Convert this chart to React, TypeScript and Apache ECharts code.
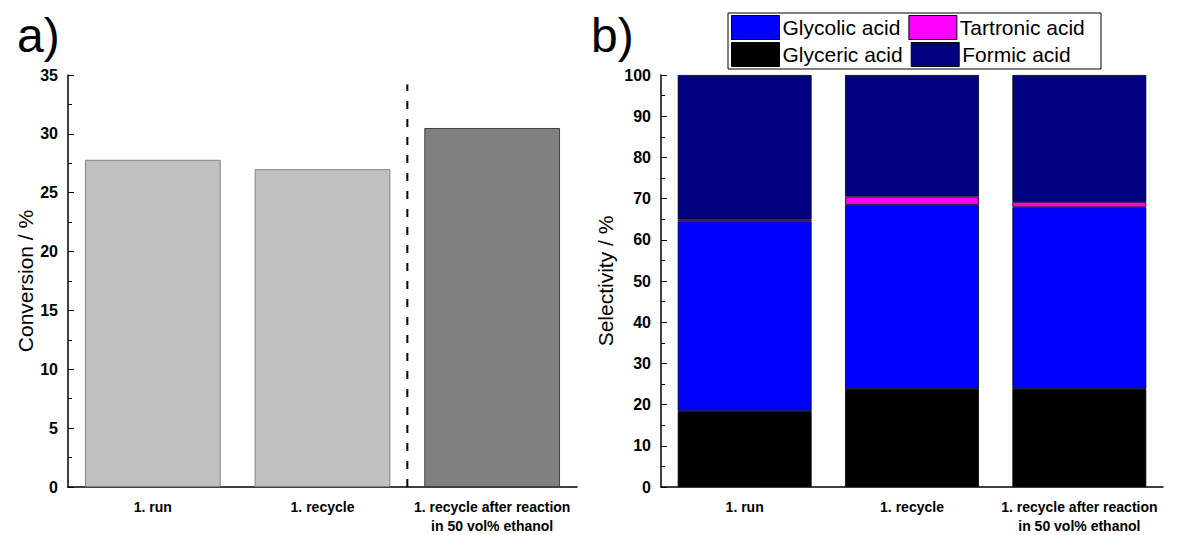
import React, { useEffect, useRef } from "react";
import * as echarts from "echarts";

const categories = ["1. run", "1. recycle", "1. recycle after reaction\nin 50 vol% ethanol"];
const conversion = [27.8, 27.0, 30.5];
const conversionColors = ["#c0c0c0", "#c0c0c0", "#808080"];
const conversionBorders = ["#808080", "#808080", "#404040"];
const dividerLine = [[2, 0], [2, 34.2]];

const glyceric = [18.4, 23.8, 23.8];
const glycolic = [46.1, 44.7, 44.1];
const tartronic = [0.4, 2.0, 1.3];
const formic = [35.1, 29.5, 30.8];

const FONT = "'Liberation Sans', Arial, sans-serif";

export default function App() {
  const ref = useRef<HTMLDivElement>(null);
  useEffect(() => {
    const chart = echarts.init(ref.current!, null, { renderer: "svg" });
    const axisLabel = { color: "#000", fontFamily: FONT, fontWeight: "bold", fontSize: 16, margin: 10 };
    const xLabel = { color: "#000", fontFamily: FONT, fontWeight: "bold", fontSize: 14, margin: 10, lineHeight: 19, interval: 0 };
    const axisLine = { show: true, lineStyle: { color: "#000", width: 1.5 } };
    const legendCommon = {
      left: 731,
      itemWidth: 48,
      itemHeight: 24,
      itemGap: 8,
      icon: "rect",
      padding: 0,
      selectedMode: false,
      textStyle: { fontFamily: FONT, fontSize: 21, color: "#000", padding: [0, 0, 0, -2] },
      itemStyle: { borderColor: "#000", borderWidth: 1 },
    };
    chart.setOption({
      animation: false,
      title: [
        { text: "a)", left: 12, top: 6, textStyle: { fontFamily: FONT, fontSize: 48, fontWeight: "normal", color: "#000" } },
        { text: "b)", left: 586, top: 6, textStyle: { fontFamily: FONT, fontSize: 48, fontWeight: "normal", color: "#000" } },
      ],
      legend: [
        { ...legendCommon, top: 15, data: ["Glycolic acid", "Tartronic acid"] },
        { ...legendCommon, top: 42, data: ["Glyceric acid", "Formic acid"] },
      ],
      graphic: [
        { type: "rect", shape: { x: 728, y: 13, width: 373, height: 56 }, style: { fill: "none", stroke: "#000", lineWidth: 1 } },
      ],
      grid: [
        { left: 68, top: 75, right: 621, bottom: 47 },
        { left: 661, top: 75, right: 35, bottom: 47 },
      ],
      xAxis: [
        { type: "category", gridIndex: 0, data: categories, axisLine, axisTick: { show: false }, axisLabel: xLabel },
        { type: "category", gridIndex: 1, data: categories, axisLine, axisTick: { show: false }, axisLabel: xLabel },
        { type: "value", gridIndex: 0, min: 0, max: 3, show: false },
      ],
      yAxis: [
        {
          type: "value", gridIndex: 0, min: 0, max: 35, interval: 5,
          name: "Conversion / %", nameLocation: "middle", nameGap: 32,
          nameTextStyle: { fontFamily: FONT, fontSize: 21, color: "#000" },
          axisLine, axisTick: { show: true, inside: true, length: 6, lineStyle: { color: "#000" } },
          minorTick: { show: true, splitNumber: 2, length: 4, lineStyle: { color: "#000" } },
          splitLine: { show: false }, axisLabel,
        },
        {
          type: "value", gridIndex: 1, min: 0, max: 100, interval: 10,
          name: "Selectivity / %", nameLocation: "middle", nameGap: 45,
          nameTextStyle: { fontFamily: FONT, fontSize: 21, color: "#000" },
          axisLine, axisTick: { show: true, inside: true, length: 6, lineStyle: { color: "#000" } },
          minorTick: { show: true, splitNumber: 2, length: 4, lineStyle: { color: "#000" } },
          splitLine: { show: false }, axisLabel,
        },
      ],
      series: [
        {
          type: "bar", xAxisIndex: 0, yAxisIndex: 0, barWidth: "80%",
          data: conversion.map((v, i) => ({ value: v, itemStyle: { color: conversionColors[i], borderColor: conversionBorders[i], borderWidth: 1 } })),
        },
        {
          type: "line", xAxisIndex: 2, yAxisIndex: 0, data: dividerLine, symbol: "none",
          lineStyle: { color: "#000", width: 2, type: [8, 10] },
        },
        { name: "Glyceric acid", type: "bar", stack: "s", xAxisIndex: 1, yAxisIndex: 1, barWidth: "80%", data: glyceric, itemStyle: { color: "#000000", borderColor: "#000", borderWidth: 0.8 } },
        { name: "Glycolic acid", type: "bar", stack: "s", xAxisIndex: 1, yAxisIndex: 1, barWidth: "80%", data: glycolic, itemStyle: { color: "#0000ff", borderColor: "#000", borderWidth: 0.8 } },
        { name: "Tartronic acid", type: "bar", stack: "s", xAxisIndex: 1, yAxisIndex: 1, barWidth: "80%", data: tartronic, itemStyle: { color: "#ff00ff", borderColor: "#000", borderWidth: 0.8 } },
        { name: "Formic acid", type: "bar", stack: "s", xAxisIndex: 1, yAxisIndex: 1, barWidth: "80%", data: formic, itemStyle: { color: "#000080", borderColor: "#000", borderWidth: 0.8 } },
      ],
    });
    return () => chart.dispose();
  }, []);
  return <div ref={ref} style={{ width: 1198, height: 535, position: "absolute", left: 0, top: 0 }} />;
}
